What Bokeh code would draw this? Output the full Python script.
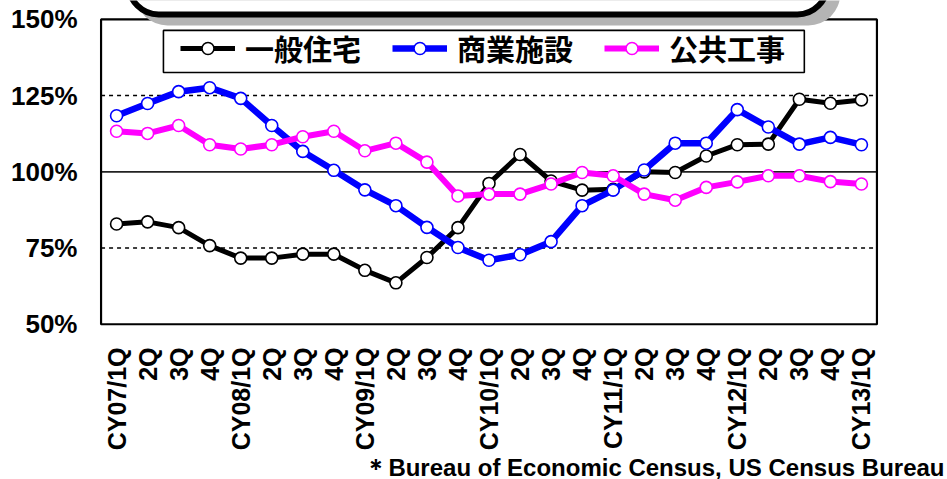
import math
from bokeh.plotting import figure
from bokeh.models import Range1d, FixedTicker, Legend, LegendItem, Title, ColumnDataSource
from bokeh.embed import file_html
from bokeh.resources import INLINE

# ---------------- data ----------------
quarters = ["CY07/1Q", "2Q", "3Q", "4Q",
            "CY08/1Q", "2Q", "3Q", "4Q",
            "CY09/1Q", "2Q", "3Q", "4Q",
            "CY10/1Q", "2Q", "3Q", "4Q",
            "CY11/1Q", "2Q", "3Q", "4Q",
            "CY12/1Q", "2Q", "3Q", "4Q",
            "CY13/1Q"]
residential = [82.9, 83.6, 81.7, 75.8, 71.7, 71.7, 73.0, 73.0, 67.7, 63.6, 71.9, 81.7, 96.2,
               105.7, 97.0, 94.0, 94.3, 100.0, 99.8, 105.2, 108.9, 109.1, 123.8, 122.5, 123.6]
commercial = [118.4, 122.4, 126.3, 127.6, 124.1, 115.2, 106.7, 100.5, 94.1, 88.9, 81.8, 75.2, 71.0,
              72.8, 77.1, 88.9, 94.0, 100.6, 109.4, 109.4, 120.4, 114.7, 109.1, 111.3, 108.9]
public = [113.3, 112.6, 115.2, 108.9, 107.5, 108.9, 111.5, 113.3, 106.9, 109.4, 103.2, 92.1, 92.7,
          92.7, 96.0, 99.8, 98.7, 92.7, 90.7, 94.9, 96.7, 98.7, 98.7, 96.8, 96.0]
series_names = ["一般住宅", "商業施設", "公共工事"]
series_colors = ["#000000", "#0000FF", "#FF00FF"]
series_widths = [5, 6.5, 6]
y_ticks = [50, 75, 100, 125, 150]
y_tick_labels = ["50%", "75%", "100%", "125%", "150%"]
dotted_grid = [75, 125]
solid_grid = [100]
footnote = "＊Bureau of Economic Census, US Census Bureau"

LAT = "Liberation Sans"
CJK = "Noto Sans CJK JP"

p = figure(width=947, height=479, output_backend="svg", toolbar_location=None,
           x_range=Range1d(-0.55, 24.55), y_range=Range1d(49.6, 156.2),
           min_border_left=99, min_border_right=69, min_border_top=0, min_border_bottom=154)
p.outline_line_color = None
p.xgrid.visible = False
p.ygrid.visible = False
p.background_fill_color = "white"
p.border_fill_color = "white"

# axes
p.xaxis.ticker = FixedTicker(ticks=list(range(len(quarters))))
p.xaxis.major_label_overrides = {i: q for i, q in enumerate(quarters)}
p.xaxis.major_label_orientation = math.pi / 2
p.xaxis.major_label_standoff = 22
p.yaxis.ticker = FixedTicker(ticks=y_ticks)
p.yaxis.major_label_overrides = {t: l for t, l in zip(y_ticks, y_tick_labels)}
p.yaxis.major_label_standoff = 22
for ax in (p.xaxis, p.yaxis):
    ax.axis_line_color = None
    ax.major_tick_in = 0
    ax.major_tick_out = 0
    ax.minor_tick_in = 0
    ax.minor_tick_out = 0
    ax.major_label_text_font = LAT
    ax.major_label_text_font_style = "bold"
    ax.major_label_text_color = "black"
p.xaxis.major_label_text_font_size = "25px"
p.yaxis.major_label_text_font_size = "26px"

# footnote below the axis labels
p.add_layout(Title(text=footnote, align="right", offset=-66, standoff=-4,
                   text_font=LAT, text_font_style="bold",
                   text_font_size="24px", text_color="black"), "below")

# gridlines
p.segment(x0=-0.5, x1=24.5, y0=dotted_grid, y1=dotted_grid, line_color="black",
          line_width=1.5, line_dash="4 4")
p.segment(x0=-0.5, x1=24.5, y0=solid_grid, y1=solid_grid, line_color="#222222", line_width=1.8)

# plot area border
p.quad(left=-0.5, right=24.5, bottom=50, top=150, fill_color=None, line_color="black", line_width=2.2)

# series
items = []
for name, vals, color, lw in zip(series_names, [residential, commercial, public],
                                 series_colors, series_widths):
    src = ColumnDataSource(dict(x=list(range(len(quarters))), y=vals))
    lr = p.line("x", "y", source=src, line_color=color, line_width=lw, line_join="round")
    sr = p.scatter("x", "y", source=src, marker="circle", size=12, fill_color="white",
                   line_color=color, line_width=1.6)
    items.append(LegendItem(label=name, renderers=[lr, sr]))

# title box (cut off at top) with shadow
p.quad(left=0.61, right=23.32, bottom=148.0, top=175, fill_color="#b4b4b4", line_color=None,
       border_radius=32)
p.quad(left=0.39, right=22.9, bottom=151.6, top=175, fill_color="white", line_color="black",
       line_width=6, border_radius=30)

# legend box
p.quad(left=1.51, right=22.16, bottom=132.6, top=146.4, fill_color="white",
       line_color="black", line_width=1.6)

legend = Legend(items=items, orientation="horizontal", location=(81, 256), padding=0,
                spacing=31, label_standoff=10, glyph_width=55, glyph_height=30, margin=0,
                label_text_font=CJK, label_text_font_style="bold", label_text_font_size="29px",
                label_text_color="black", border_line_color=None, background_fill_alpha=0)
p.add_layout(legend)

open("out.html", "w").write(file_html(p, INLINE))
